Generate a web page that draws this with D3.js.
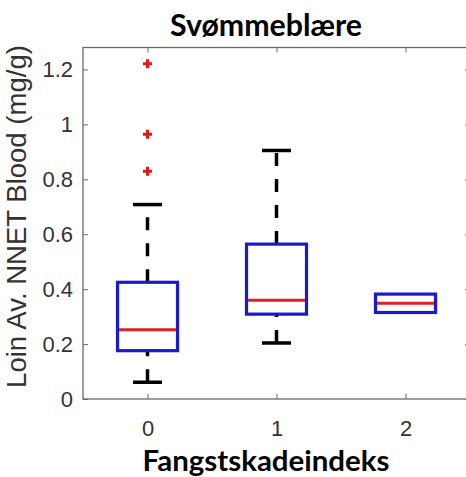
<!DOCTYPE html>
<html>
<head>
<meta charset="utf-8">
<script src="https://cdn.jsdelivr.net/npm/d3@7"></script>
<style>
  html, body { margin: 0; padding: 0; background: #fff; }
  svg { display: block; }
</style>
</head>
<body>
<svg id="chart" width="466" height="477"></svg>
<script>
// ---- data ----
const categories = ["0", "1", "2"];
const whiskerLow = [0.061, 0.204, 0.315];
const q1 = [0.176, 0.309, 0.315];
const median = [0.252, 0.360, 0.349];
const q3 = [0.425, 0.564, 0.382];
const whiskerHigh = [0.708, 0.905, 0.382];
const outliers = [[1.221, 0.964, 0.829], [], []];
const yTicks = [0, 0.2, 0.4, 0.6, 0.8, 1, 1.2];
const titleText = "Svømmeblære";
const xLabelText = "Fangstskadeindeks";
const yLabelText = "Loin Av. NNET Blood (mg/g)";

// ---- layout ----
const svg = d3.select("#chart");
const pLeft = 83, pRight = 470, pTop = 47.5, pBottom = 399;
const x = d3.scaleLinear().domain([-0.5, categories.length - 0.5]).range([pLeft, pRight]);
const y = d3.scaleLinear().domain([0, 1.28]).range([pBottom, pTop]);
const boxW = 60, capW = 29;
const axisColor = "#6a6a6a";
const labelColor = "#333333";

// axes box
const gAx = svg.append("g");
const yAxis = d3.axisLeft(y).tickValues(yTicks).tickSize(-5).tickPadding(10)
  .tickFormat(d => d3.format("~g")(d));
const yAxisR = d3.axisRight(y).tickValues(yTicks).tickSize(-5).tickFormat("");
const xAxis = d3.axisBottom(x).tickValues(categories.map((c, i) => i)).tickSize(-5).tickPadding(21)
  .tickFormat(i => categories[i]);
const xAxisT = d3.axisTop(x).tickValues(categories.map((c, i) => i)).tickSize(-5).tickFormat("");

function style(g) {
  g.select(".domain").attr("stroke", axisColor).attr("stroke-width", 1.3);
  g.selectAll(".tick line").attr("stroke", axisColor).attr("stroke-width", 1);
  g.selectAll(".tick text").attr("fill", labelColor)
    .style("font-family", "'Liberation Sans', Arial, sans-serif").style("font-size", "22px");
}
gAx.append("g").attr("transform", `translate(${pLeft},0)`).call(yAxis).call(style);
gAx.append("g").attr("transform", `translate(${pRight},0)`).call(yAxisR).call(style);
gAx.append("g").attr("transform", `translate(0,${pBottom})`).call(xAxis).call(style);
gAx.append("g").attr("transform", `translate(0,${pTop})`).call(xAxisT).call(style);
gAx.selectAll(".domain").remove();
gAx.append("rect").attr("x", pLeft).attr("y", pTop).attr("width", pRight - pLeft).attr("height", pBottom - pTop)
  .attr("fill", "none").attr("stroke", axisColor).attr("stroke-width", 1.3);

// boxes
const g = svg.append("g");
categories.forEach((c, i) => {
  const cx = x(i);
  if (whiskerHigh[i] > q3[i]) {
    g.append("line").attr("x1", cx).attr("x2", cx).attr("y1", y(q3[i])).attr("y2", y(whiskerHigh[i]))
      .attr("stroke", "#000").attr("stroke-width", 3.5).attr("stroke-dasharray", "13,13");
    g.append("line").attr("x1", cx - capW / 2).attr("x2", cx + capW / 2)
      .attr("y1", y(whiskerHigh[i])).attr("y2", y(whiskerHigh[i]))
      .attr("stroke", "#000").attr("stroke-width", 3.5);
  }
  if (whiskerLow[i] < q1[i]) {
    g.append("line").attr("x1", cx).attr("x2", cx).attr("y1", y(whiskerLow[i])).attr("y2", y(q1[i]))
      .attr("stroke", "#000").attr("stroke-width", 3.5).attr("stroke-dasharray", "13,13");
    g.append("line").attr("x1", cx - capW / 2).attr("x2", cx + capW / 2)
      .attr("y1", y(whiskerLow[i])).attr("y2", y(whiskerLow[i]))
      .attr("stroke", "#000").attr("stroke-width", 3.5);
  }
  g.append("rect").attr("x", cx - boxW / 2).attr("y", y(q3[i]))
    .attr("width", boxW).attr("height", y(q1[i]) - y(q3[i]))
    .attr("fill", "none").attr("stroke", "#1a1ac8").attr("stroke-width", 3.2);
  g.append("line").attr("x1", cx - boxW / 2 + 1.5).attr("x2", cx + boxW / 2 - 1.5)
    .attr("y1", y(median[i])).attr("y2", y(median[i]))
    .attr("stroke", "#e02020").attr("stroke-width", 3);
  outliers[i].forEach(v => {
    const s = 4.5;
    g.append("path").attr("d", `M${cx - s},${y(v)}H${cx + s}M${cx},${y(v) - s}V${y(v) + s}`)
      .attr("stroke", "#e01818").attr("stroke-width", 3).attr("fill", "none");
  });
});

// texts
function fit(t, target) {
  const w = t.node().getComputedTextLength();
  const fs = parseFloat(t.style("font-size"));
  t.style("font-size", (fs * target / w) + "px");
}
const title = svg.append("text").attr("x", 266).attr("y", 36).attr("text-anchor", "middle")
  .style("font-family", "Lato, 'Open Sans', sans-serif").style("font-weight", "bold").style("font-size", "26px")
  .attr("fill", "#000").text(titleText);
fit(title, 192);
const xl = svg.append("text").attr("x", 266).attr("y", 471).attr("text-anchor", "middle")
  .style("font-family", "Lato, 'Open Sans', sans-serif").style("font-weight", "bold").style("font-size", "26px")
  .attr("fill", "#000").text(xLabelText);
fit(xl, 247);
const yl = svg.append("text").attr("transform", `translate(26,216.5) rotate(-90)`).attr("text-anchor", "middle")
  .style("font-family", "'Liberation Sans', Arial, sans-serif").style("font-size", "20px")
  .attr("fill", labelColor).text(yLabelText);
fit(yl, 343);
</script>
</body>
</html>
